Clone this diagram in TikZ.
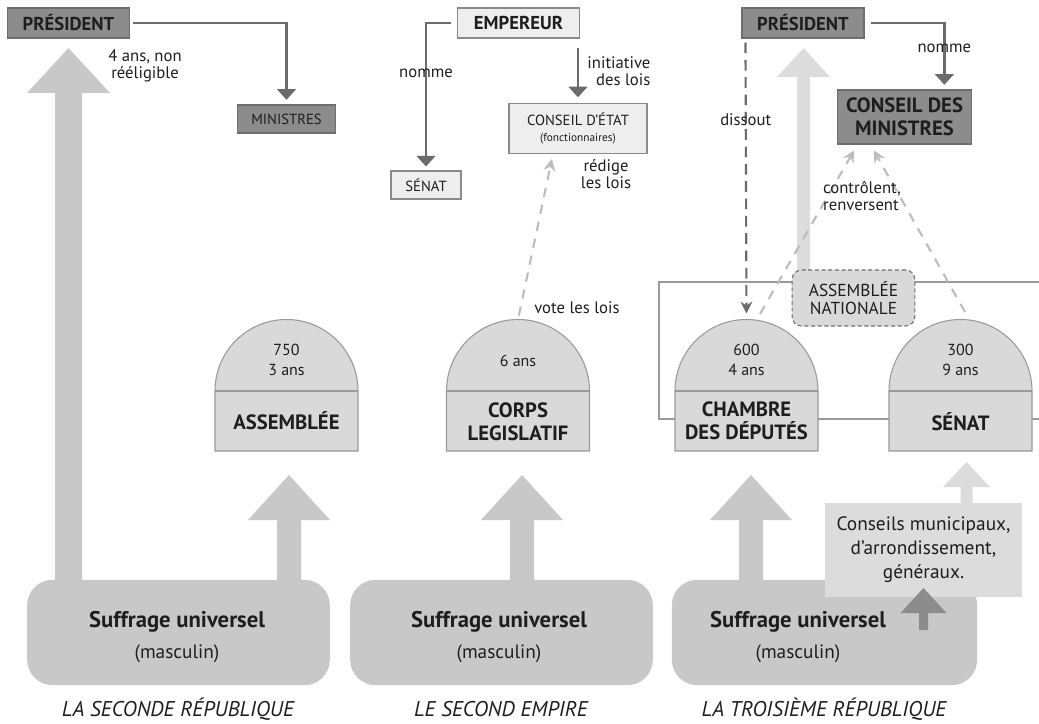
\documentclass[tikz,border=0pt]{standalone}
\usepackage{fontspec}
\setmainfont{PT Sans}
\usetikzlibrary{arrows.meta,calc,positioning}

\definecolor{boxdark}{HTML}{8C8C8C}
\definecolor{boxedge}{HTML}{6E6E6E}
\definecolor{boxlight}{HTML}{EEEEEE}
\definecolor{lightedge}{HTML}{8A8A8A}
\definecolor{domefill}{HTML}{D9D9D9}
\definecolor{domeedge}{HTML}{9A9A9A}
\definecolor{suffill}{HTML}{C8C8C8}
\definecolor{arrowmid}{HTML}{C8C8C8}
\definecolor{arrowpale}{HTML}{DCDCDC}
\definecolor{linkdark}{HTML}{6B6B6B}
\definecolor{linkpale}{HTML}{BDBDBD}
\definecolor{inkgray}{HTML}{1E1E1E}

% block arrow: centre x, tip y, head base y, foot y, head half width, shaft half width, colour
\newcommand{\blockarrow}[7]{%
  \fill[#7] (#1,#2) -- (#1+#5,#3) -- (#1+#6,#3) -- (#1+#6,#4)
    -- (#1-#6,#4) -- (#1-#6,#3) -- (#1-#5,#3) -- cycle;}

% dome of a chamber: name, centre x
\newcommand{\dome}[2]{%
  \filldraw[fill=domefill, draw=domeedge, line width=0.8pt]
    (#2-71.5,451) -- (#2-71.5,391) arc[start angle=180, end angle=360, radius=71.5]
    -- (#2+71.5,451) -- cycle;
  \draw[domeedge, line width=0.8pt] (#2-71.5,391) -- (#2+71.5,391);
  \coordinate (#1top) at (#2,319.5);}

\begin{document}
\begin{tikzpicture}[x=0.75pt, y=-0.75pt,
    darkbox/.style={draw=boxedge, fill=boxdark, line width=0.8pt, inner sep=0pt,
      text=inkgray, align=center, font=\bfseries\fontsize{14}{17.5}\selectfont},
    lightbox/.style={draw=lightedge, fill=boxlight, line width=0.8pt, inner sep=0pt,
      text=inkgray, align=center, font=\fontsize{11}{13}\selectfont},
    anbox/.style={draw=boxedge, fill=domefill, line width=0.8pt, dash pattern=on 3pt off 2pt,
      rounded corners=7pt, inner sep=0pt, text=inkgray, align=center,
      font=\fontsize{13}{13.5}\selectfont},
    sufbox/.style={fill=suffill, rounded corners=19pt, minimum width=227pt,
      minimum height=79pt, inner sep=0pt},
    suftext/.style={text=inkgray, align=center, inner sep=0pt},
    domenum/.style={text=inkgray, align=center, inner sep=0pt, font=\fontsize{12}{15.5}\selectfont},
    domename/.style={text=inkgray, align=center, inner sep=0pt, font=\bfseries\fontsize{15.5}{17.5}\selectfont},
    lbl/.style={text=inkgray, align=center, inner sep=0pt, font=\fontsize{12.5}{13}\selectfont},
    era/.style={text=inkgray, inner sep=0pt, font=\itshape\fontsize{16}{18}\selectfont},
    linkarrow/.style={draw=linkdark, line width=2.2pt, -{Triangle[width=14pt,length=8pt]}},
    darkdash/.style={draw=linkdark, line width=1.6pt, dash pattern=on 8pt off 5pt,
      -{Stealth[width=9pt,length=9pt,inset=3pt]}},
    paledash/.style={draw=linkpale, line width=1.6pt, dash pattern=on 7pt off 6pt,
      -{Stealth[width=9pt,length=9pt,inset=3pt]}}]
  \useasboundingbox (0,0) rectangle (1039,724);

  % Frame of the Assemblée nationale
  \draw[domeedge, line width=1.5pt] (1039,282) -| (659,419) -- (1039,419);

  % Draw the block arrows of the vote
  \blockarrow{68.5}{48}{93}{600}{41.5}{13.5}{arrowmid}
  \blockarrow{289}{475}{520}{600}{41}{12}{arrowmid}
  \blockarrow{522}{475}{520}{600}{41}{12}{arrowmid}
  \blockarrow{751}{475}{520}{600}{41}{12}{arrowmid}
  \blockarrow{966.5}{462}{487}{510}{23.5}{6}{arrowpale}

  % Suffrage universel
  \node[sufbox] (sufA) at (178.5,632.5) {};
  \node[sufbox] (sufB) at (501.5,632.5) {};
  \node[sufbox, minimum width=229pt] (sufC) at (824.5,632.5) {};
  \foreach \n/\x in {A/177, B/499, C/798}
    \node[suftext] (suf\n txt) at (\x,637)
      {{\bfseries\fontsize{17}{19}\selectfont Suffrage universel}\\[8pt]
       {\fontsize{14.5}{16}\selectfont (masculin)}};

  % Conseils locaux
  \node[fill=arrowpale, minimum width=148pt, minimum height=70.5pt, inner sep=0pt,
    text=inkgray, align=center, font=\fontsize{14.5}{18}\selectfont]
    (conseils) at (923.5,550) {Conseils municipaux,\\d'arrondissement,\\généraux.};
  \blockarrow{923.5}{588}{613}{630}{23}{4.5}{boxdark}

  % Draw the chambers
  \dome{asA}{286.5}
  \node[domenum] (asAnum) at (286.5,360) {750\\3 ans};
  \node[domename] (asAname) at (286.5,421) {ASSEMBLÉE};
  \dome{corps}{518}
  \node[domenum] (corpsnum) at (518,361) {6 ans};
  \node[domename] (corpsname) at (518,422) {CORPS\\LEGISLATIF};
  \dome{chamb}{746.5}
  \node[domenum] (chambnum) at (746.5,360) {600\\4 ans};
  \node[domename] (chambname) at (746.5,421) {CHAMBRE\\DES DÉPUTÉS};
  \dome{senC}{960.5}
  \node[domenum] (senCnum) at (960.5,360) {300\\9 ans};
  \node[domename] (senCname) at (960.5,422) {SÉNAT};

  % Assemblée nationale
  \blockarrow{803.5}{48}{77}{280}{26.5}{6.5}{arrowpale}
  \node[anbox, minimum width=92pt, minimum height=42pt] (an) at (853.5,298) {ASSEMBLÉE\\NATIONALE};

  % La Seconde République
  \node[darkbox, minimum width=92pt, minimum height=22.5pt] (presA) at (68.5,23) {PRÉSIDENT};
  \node[darkbox, font=\fontsize{11}{13}\selectfont, minimum width=74pt, minimum height=21pt]
    (minA) at (286.5,119) {MINISTRES};
  \node[lbl] (mandatA) at (145,66) {4 ans, non\\rééligible};
  \draw[linkarrow, shorten <=2pt, shorten >=3.5pt] (presA.east) -| (minA.north);

  % Le Second Empire
  \node[lightbox, font=\bfseries\fontsize{14}{15}\selectfont, minimum width=91pt,
    minimum height=22.5pt] (emp) at (518.5,23) {EMPEREUR};
  \node[lightbox, minimum width=52.5pt, minimum height=21pt] (senB) at (426,185) {SÉNAT};
  \node[lightbox, minimum width=103.5pt, minimum height=37pt] (cetat) at (578,128.5)
    {CONSEIL D'ÉTAT\\[-1pt]{\fontsize{8.5}{10}\selectfont(fonctionnaires)}};
  \draw[linkarrow, shorten <=5pt, shorten >=3pt] (emp.west) -| node[lbl, pos=0.67] {nomme} (senB.north);
  \draw[linkarrow, shorten <=7pt, shorten >=4.5pt] (cetat.north |- emp.south) --
    node[lbl, right=6pt, align=right] {initiative\\des lois} (cetat.north);
  \node[lbl] (redige) at (606,174) {rédige\\les lois};
  \draw[paledash, shorten <=3pt, shorten >=4pt] (corpstop) -- ($(cetat.south)+(-25,0)$);
  \node[lbl] (vote) at (577,308) {vote les lois};

  % La Troisième République
  \node[darkbox, minimum width=91.5pt, minimum height=22.5pt] (presC) at (803,23) {PRÉSIDENT};
  \node[darkbox, font=\bfseries\fontsize{15.5}{17.5}\selectfont, minimum width=101pt,
    minimum height=40.5pt] (cmin) at (904.5,117) {CONSEIL DES\\MINISTRES};
  \draw[linkarrow, shorten <=5pt, shorten >=3.5pt] (presC.east) -|
    node[lbl, pos=0.69] {nomme} ($(cmin.north east)+(-28,0)$);
  \draw[darkdash, shorten <=3pt, shorten >=4.5pt] ($(presC.south west)+(4,0)$) --
    node[lbl, pos=0.29] {dissout} (chambtop);
  \draw[paledash, shorten <=3pt, shorten >=5pt] ($(chambtop)+(11.5,-2)$) -- ($(cmin.south)+(-47,0)$);
  \draw[paledash, shorten <=3pt, shorten >=5pt] ($(senCtop)+(6.5,-4)$) -- ($(cmin.south)+(-34,0)$);
  \node[lbl, align=left] (controle) at (862,196) {contrôlent,\\renversent};

  % Names of the regimes
  \node[era] (eraA) at (178,709) {LA SECONDE RÉPUBLIQUE};
  \node[era] (eraB) at (501,709) {LE SECOND EMPIRE};
  \node[era] (eraC) at (824,709) {LA TROISIÈME RÉPUBLIQUE};
\end{tikzpicture}
\end{document}
